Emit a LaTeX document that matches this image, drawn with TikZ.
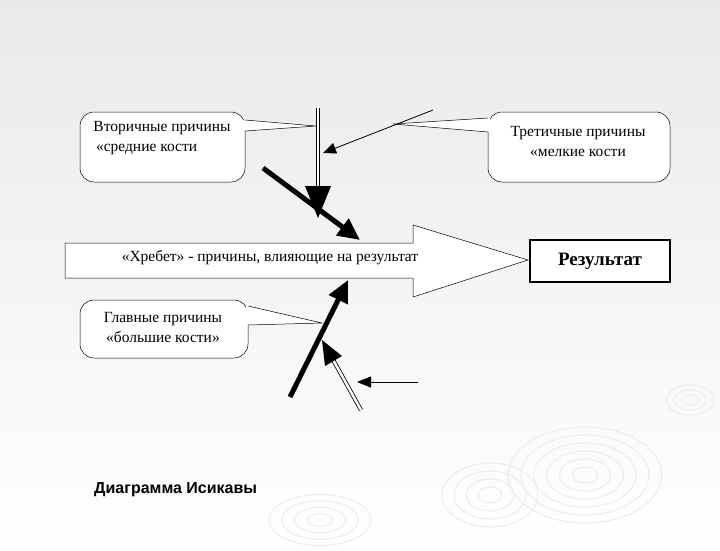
\documentclass[tikz,border=0pt]{standalone}
\usepackage{fontspec}
\setmainfont{Liberation Serif}
\newfontfamily\titlefont{Liberation Sans}
\usetikzlibrary{arrows.meta}
\tikzset{
 callout/.style={draw=black,fill=white,line width=0.5pt,rounded corners=14pt},
 lbl/.style={font=\fontsize{15.5}{20}\selectfont,align=center,inner sep=0pt},
 tip/.style={-{Triangle[length=22pt,width=20pt]}},
 ripple/.style={draw=gray!15,line width=1pt},
}
\begin{document}
\begin{tikzpicture}[x=1pt,y=-1pt]
\useasboundingbox (0,0) rectangle (720,550);
\shade[top color=gray!17,bottom color=white] (0,0) rectangle (720,550);
% ripples
\foreach \r in {8,16,24,32,40,48}{\draw[ripple] (585,475) ellipse ({\r*1.6} and \r);}
\foreach \r in {8,16,24,32}{\draw[ripple] (490,495) ellipse ({\r*1.5} and \r);}
\foreach \r in {8,16,24,32}{\draw[ripple] (320,520) ellipse ({\r*1.6} and \r*0.8);}
\foreach \r in {5,10,15}{\draw[ripple] (690,400) ellipse ({\r*1.6} and \r);}
% spine arrow
\draw[fill=white,line width=0.5pt] (65,243) -- (413,243) -- (413,225) -- (528,260) -- (413,297) -- (413,278) -- (65,278) -- cycle;
\node[lbl] (spine) at (270,258) {«Хребет» - причины, влияющие на результат};
\node[draw,line width=1.6pt,fill=white,minimum width=140pt,minimum height=42pt,font=\fontsize{19}{21}\selectfont\bfseries] (res) at (600,261) {Результат};
% callouts
\draw[callout] (80,112) rectangle (245,182);
\fill[white] (243,120) -- (316,126) -- (243,131) -- cycle;
\draw[line width=0.5pt] (245,120) -- (316,126) -- (245,131);
\node[lbl,align=left] (c1) at (162,138) {Вторичные причины\\\,«средние кости};
\draw[callout] (488,112) rectangle (670,182);
\fill[white] (490,118) -- (393,124) -- (490,132) -- cycle;
\draw[line width=0.5pt] (488,118) -- (393,124) -- (488,132);
\node[lbl] (c2) at (578,141) {Третичные причины\\«мелкие кости};
\draw[callout] (80,300) rectangle (248,358);
\fill[white] (246,306) -- (322,323) -- (246,325) -- cycle;
\draw[line width=0.5pt] (248,306) -- (322,323) -- (248,325);
\node[lbl] (c3) at (163,327) {Главные причины\\«большие кости»};
% arrows
\coordinate (a1s) at (318,108); \coordinate (a1e) at (318,218);
\draw[double,double distance=2.5pt,line width=0.8pt,shorten >=16pt] (a1s) -- (a1e);
\fill (305,186) -- (331,186) -- (318,218) -- cycle;
\coordinate (a2s) at (433,110); \coordinate (a2e) at (323,153);
\draw[line width=0.8pt,-{Triangle[length=13pt,width=11pt]}] (a2s) -- (a2e);
\coordinate (a3s) at (263,168); \coordinate (a3e) at (360,240);
\draw[line width=5pt,tip] (a3s) -- (a3e);
\coordinate (a4s) at (290,397); \coordinate (a4e) at (348,280);
\draw[line width=5pt,tip] (a4s) -- (a4e);
\coordinate (a5s) at (361,410); \coordinate (a5e) at (322,340);
\draw[double,double distance=2.5pt,line width=0.8pt,shorten >=14pt] (a5s) -- (a5e);
\fill (a5e) -- (342,356) -- (325,366) -- cycle;
\coordinate (a6s) at (418,382); \coordinate (a6e) at (357,382);
\draw[line width=0.8pt,-{Triangle[length=14pt,width=11pt]}] (a6s) -- (a6e);
\node[font=\titlefont\bfseries\fontsize{16}{18}\selectfont,anchor=west,inner sep=0pt] (title) at (94,490) {Диаграмма Исикавы};
\end{tikzpicture}
\end{document}
